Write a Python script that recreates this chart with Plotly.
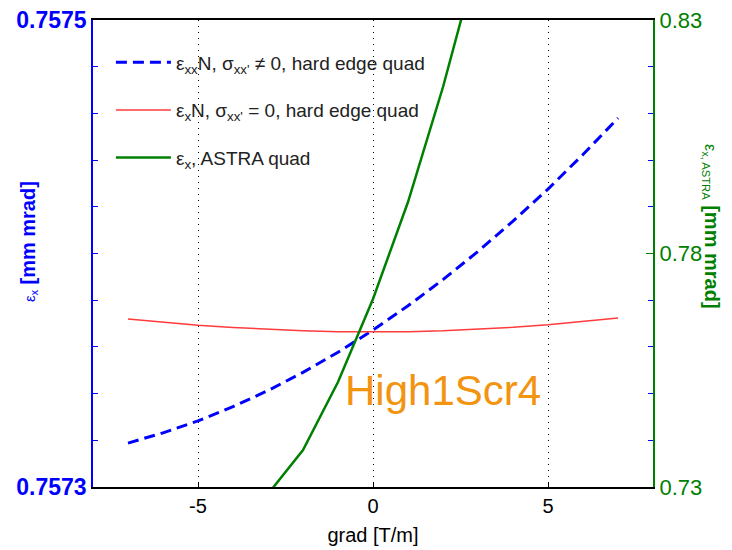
import plotly.graph_objects as go

# Quadrupole gradient scan [T/m]
grad = [-7, -6, -5, -4, -3, -2, -1, 0, 1, 2, 3, 4, 5, 6, 7]

# Normalised emittance, hard edge quad model [mm mrad]
eps_corr = [0.7573188, 0.7573232, 0.7573283, 0.7573344, 0.7573413, 0.7573491,
            0.7573577, 0.7573672, 0.7573776, 0.7573888, 0.7574009, 0.7574139,
            0.7574276, 0.7574424, 0.7574580]
eps_nocorr = [0.7573720, 0.7573706, 0.7573693, 0.7573683, 0.7573675, 0.7573669,
              0.7573665, 0.7573664, 0.7573665, 0.7573669, 0.7573675, 0.7573684,
              0.7573695, 0.7573708, 0.7573724]

# ASTRA tracking [mm mrad]
grad_astra = [-3, -2, -1, 0, 1, 2, 3]
eps_astra = [0.72850, 0.73792, 0.75248, 0.77026, 0.79103, 0.81565, 0.84349]

left_ticks = [0.7573, 0.7575]
right_ticks = [0.73, 0.78, 0.83]
x_ticks = [-5, 0, 5]

BLUE = "#0000FF"
RED = "#FF3B3B"
GREEN = "#008000"
ORANGE = "#F39410"
FONT = "Liberation Sans, Arial, sans-serif"

fig = go.Figure()

fig.add_trace(go.Scatter(
    x=grad, y=eps_corr, mode="lines", yaxis="y",
    line=dict(color=BLUE, width=3, dash="11px,6px"),
    name="ε<sub>xx</sub>N, σ<sub>xx'</sub> ≠ 0, hard edge quad",
    legendgroup="a"))
fig.add_trace(go.Scatter(
    x=grad, y=eps_nocorr, mode="lines", yaxis="y",
    line=dict(color=RED, width=1.5),
    name="ε<sub>x</sub>N, σ<sub>xx'</sub> = 0, hard edge quad",
    legendgroup="b"))
fig.add_trace(go.Scatter(
    x=grad_astra, y=eps_astra, mode="lines", yaxis="y2",
    line=dict(color=GREEN, width=2.5),
    name="ε<sub>x</sub>, ASTRA quad",
    legendgroup="c"))

fig.update_layout(
    width=732, height=550,
    margin=dict(l=93, r=79, t=20, b=63),
    paper_bgcolor="white", plot_bgcolor="white",
    font=dict(family=FONT, color="#111111"),
    showlegend=True,
    legend=dict(
        x=0.032, y=0.95, xanchor="left", yanchor="top",
        bgcolor="rgba(0,0,0,0)", borderwidth=0,
        font=dict(size=19, family=FONT, color="#222222"),
        traceorder="grouped", tracegroupgap=20,
        itemwidth=55, itemclick=False,
    ),
    xaxis=dict(
        range=[-8, 8], tickvals=x_ticks,
        ticktext=["%d" % v for v in x_ticks],
        ticks="inside", ticklen=5, tickcolor="black",
        showline=True, linecolor="black", linewidth=1.5, mirror=True,
        showgrid=True, gridcolor="black", gridwidth=1, griddash="1px,5px",
        zeroline=False, automargin=False,
        tickfont=dict(size=20, color="black", family=FONT),
        title=dict(text="grad [T/m]", font=dict(size=20, color="black", family=FONT),
                   standoff=12),
    ),
    yaxis=dict(
        range=[0.7573, 0.7575], tickvals=left_ticks,
        ticktext=["<b>%.4f</b>" % v for v in left_ticks],
        ticks="inside", ticklen=6, tickcolor=BLUE,
        minor=dict(dtick=0.00002, ticks="inside", ticklen=5, tickcolor=BLUE,
                   showgrid=False),
        showline=True, linecolor=BLUE, linewidth=1.5, mirror="ticks",
        showgrid=False, zeroline=False, automargin=False,
        tickfont=dict(size=23, color=BLUE, family=FONT),
    ),
    yaxis2=dict(
        range=[0.73, 0.83], tickvals=right_ticks,
        ticktext=["%.2f" % v for v in right_ticks],
        overlaying="y", side="right",
        ticks="inside", ticklen=7, tickcolor=GREEN,
        showline=True, linecolor=GREEN, linewidth=2,
        showgrid=False, zeroline=False, automargin=False,
        tickfont=dict(size=22, color=GREEN, family=FONT),
    ),
)

# Axis titles
fig.add_annotation(
    text="<span style='font-size:15px'>ε<sub>x</sub></span> <b>[mm mrad]</b>",
    xref="paper", yref="paper", x=0, y=0.5, xshift=-78, yshift=12,
    showarrow=False, textangle=-90,
    font=dict(size=20, color=BLUE, family=FONT))
fig.add_annotation(
    text="<span style='font-size:16px'>ε<sub>x, ASTRA</sub></span> <b>[mm mrad]</b>",
    xref="paper", yref="paper", x=1, y=0.5, xshift=72, yshift=27,
    showarrow=False, textangle=90,
    font=dict(size=20, color=GREEN, family=FONT))

# Screen label
fig.add_annotation(
    text="High1Scr4", xref="x", yref="paper", x=2.0, y=0.2, yshift=-22,
    showarrow=False, font=dict(size=42, color=ORANGE, family=FONT))

fig.write_html("out.html")
